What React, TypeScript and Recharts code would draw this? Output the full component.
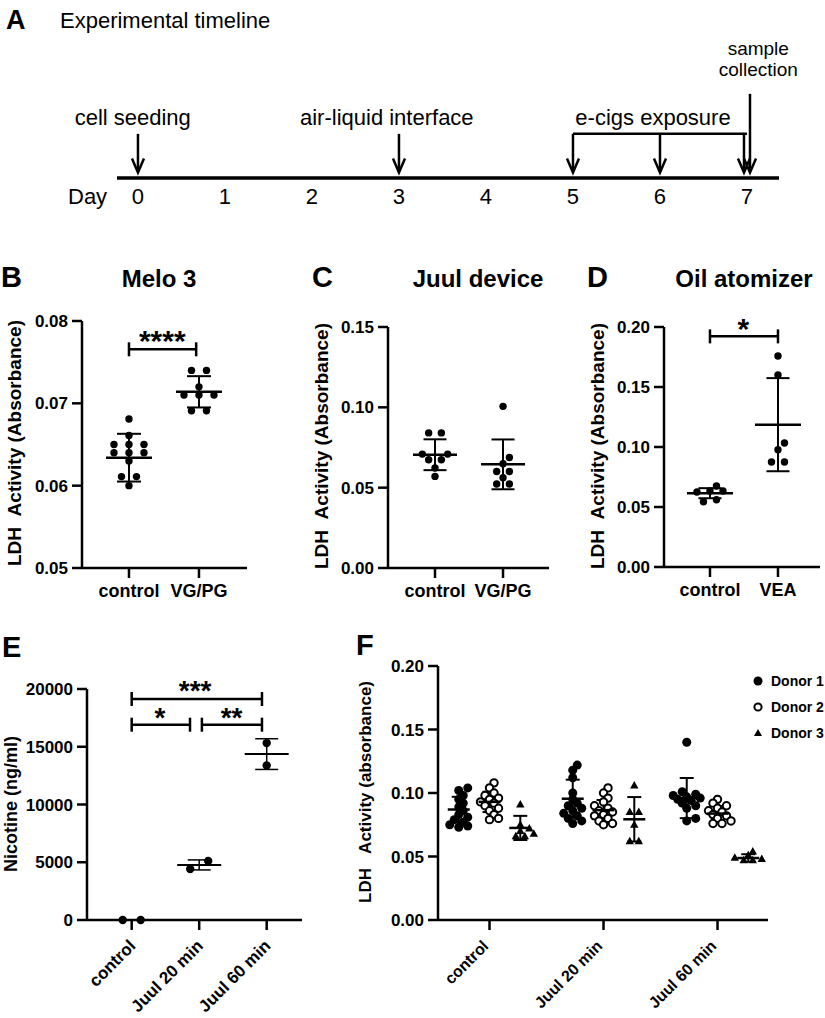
import React from 'react';
import { ScatterChart, Scatter, XAxis, YAxis, ErrorBar, ReferenceLine, ReferenceDot } from 'recharts';

const FONT = '"Liberation Sans", Arial, Helvetica, sans-serif';

// ---------- A: timeline ----------
const dayTicks = [0, 1, 2, 3, 4, 5, 6, 7];
const singleArrowDays = [0, 3];
const exposureDays = [5, 6, 7];
const collectionDay = 7;
const timelineLabels = [
  { day: -0.06, level: 0.44, text: 'cell seeding', size: 22 },
  { day: 2.86, level: 0.44, text: 'air-liquid interface', size: 22 },
  { day: 5.92, level: 0.44, text: 'e-cigs exposure', size: 22 },
  { day: 7.13, level: 0.94, text: 'sample', size: 19 },
  { day: 7.13, level: 0.79, text: 'collection', size: 19 },
];

// ---------- B: Melo 3 ----------
const meloCategories = ['control', 'VG/PG'];
const meloControl = [0.0681, 0.0661, 0.065, 0.065, 0.065, 0.064, 0.064, 0.064, 0.063, 0.0611, 0.0611, 0.06];
const meloVgpg = [0.074, 0.074, 0.072, 0.071, 0.071, 0.071, 0.0691, 0.0691];
const meloMeans = [0.0634, 0.0714];
const meloSd = [0.0029, 0.0019];

// ---------- C: Juul device ----------
const juulCategories = ['control', 'VG/PG'];
const juulControl = [0.0841, 0.0841, 0.0709, 0.0709, 0.0674, 0.0674, 0.0622, 0.057];
const juulVgpg = [0.1006, 0.0688, 0.0649, 0.0601, 0.0601, 0.0562, 0.0523, 0.0523];
const juulMeans = [0.0705, 0.0645];
const juulSd = [0.0096, 0.0155];

// ---------- D: Oil atomizer ----------
const oilCategories = ['control', 'VEA'];
const oilControl = [0.0675, 0.0633, 0.0633, 0.0625, 0.0561, 0.0544];
const oilVea = [0.1758, 0.16, 0.1033, 0.0978, 0.0875, 0.0875];
const oilMeans = [0.0615, 0.1186];
const oilSd = [0.0042, 0.0388];

// ---------- E: Nicotine ----------
const nicCategories = ['control', 'Juul 20 min', 'Juul 60 min'];
const nicControl = [0, 0];
const nic20 = [4422, 5116];
const nic60 = [15318, 13382];
const nicMeans = [0, 4769, 14364];
const nicSd = [0, 434, 1330];

// ---------- F: LDH by donor ----------
const donorCategories = ['control', 'Juul 20 min', 'Juul 60 min'];
const donorNames = ['Donor 1', 'Donor 2', 'Donor 3'];
const donor1 = [
  [0.104, 0.102, 0.098, 0.095, 0.092, 0.089, 0.086, 0.083, 0.081, 0.079, 0.077, 0.075, 0.074, 0.073],
  [0.122, 0.118, 0.112, 0.1, 0.095, 0.092, 0.09, 0.088, 0.086, 0.084, 0.082, 0.08, 0.078, 0.076],
  [0.14, 0.101, 0.099, 0.098, 0.097, 0.096, 0.095, 0.094, 0.092, 0.09, 0.088, 0.08, 0.078],
];
const donor2 = [
  [0.108, 0.104, 0.1, 0.098, 0.096, 0.095, 0.093, 0.092, 0.09, 0.088, 0.086, 0.083, 0.08, 0.079],
  [0.104, 0.1, 0.096, 0.093, 0.09, 0.088, 0.086, 0.085, 0.083, 0.082, 0.08, 0.078, 0.076, 0.075],
  [0.095, 0.092, 0.09, 0.088, 0.086, 0.085, 0.083, 0.082, 0.08, 0.078, 0.076, 0.076],
];
const donor3 = [
  [0.091, 0.075, 0.072, 0.07, 0.068, 0.066, 0.066],
  [0.106, 0.085, 0.085, 0.075, 0.062, 0.062],
  [0.054, 0.051, 0.049, 0.048, 0.047, 0.047],
];
const donorMeans = [
  [0.087, 0.0955, 0.096],
  [0.093, 0.0865, 0.0838],
  [0.0725, 0.0793, 0.0488],
];
const donorSd = [
  [0.01, 0.015, 0.0158],
  [0.008, 0.008, 0.006],
  [0.0095, 0.0175, 0.003],
];
const donorOffset = [-0.27, 0, 0.27];

type Marker = 'dot' | 'ring' | 'tri';
type Group = { x: number; values: number[]; mean: number; sd: number; marker: Marker };
type Bracket = { x1: number; x2: number; y: number };
type Star = { x: number; y: number; text: string };

// simple GraphPad-like column scatter: rows of near-equal values spread symmetrically
function swarm(values: number[], pxPerUnit: number, s: { spacing: number; minDist: number; tol: number }) {
  const order = values.map((_, i) => i).sort((a, b) => values[a] - values[b]);
  const rows: number[][] = [];
  for (const i of order) {
    const row = rows[rows.length - 1];
    if (row && (values[i] - values[row[0]]) * pxPerUnit <= s.tol) row.push(i);
    else rows.push([i]);
  }
  const off = values.map(() => 0);
  const placed: [number, number][] = [];
  for (const row of rows) {
    const k = row.length;
    const cands: number[][] = [];
    if (k === 1) {
      for (const m of [0, 0.5, -0.5, 1, -1, 1.5, -1.5]) cands.push([m * s.spacing]);
    } else {
      for (const g of [1, 1.5, 2, 2.5, 3]) cands.push(row.map((_, j) => (j - (k - 1) / 2) * s.spacing * g));
    }
    let best = cands[0];
    let bestD = -1;
    for (const c of cands) {
      let d = Infinity;
      row.forEach((i, j) => {
        const y = values[i] * pxPerUnit;
        for (const [px, py] of placed) d = Math.min(d, Math.hypot(px - c[j], py - y));
      });
      if (d >= s.minDist) {
        best = c;
        break;
      }
      if (d > bestD) {
        best = c;
        bestD = d;
      }
    }
    row.forEach((i, j) => {
      off[i] = best[j];
      placed.push([best[j], values[i] * pxPerUnit]);
    });
  }
  return off;
}

const axisStyle = { stroke: '#000', strokeWidth: 2.5 };
const tickFont = { fill: '#000', fontSize: 17, fontWeight: 700, fontFamily: FONT };

function RotatedTick(props: any) {
  const { x, y, payload, labels, dx, dy, size } = props;
  const tx = x + dx;
  const ty = y + dy;
  return (
    <text x={tx} y={ty} transform={`rotate(-45 ${tx} ${ty})`} textAnchor="end" fontSize={size} fontWeight={700} fontFamily={FONT} fill="#000">
      {labels[Math.round(payload.value)]}
    </text>
  );
}

interface PanelProps {
  left: number; top: number; width: number; height: number;
  marginTop: number; marginRight: number; yAxisWidth: number; xAxisHeight: number;
  xDomain: [number, number]; yDomain: [number, number]; yTicks: number[]; yFormat: (v: number) => string;
  categories: string[]; groups: Group[];
  dotR: number; meanHalf: number; capHalf: number; meanStroke: number; sdStroke: number;
  swarmOpts: { spacing: number; minDist: number; tol: number };
  brackets?: Bracket[]; stars?: Star[]; starSize?: number;
  rotated?: { dx: number; dy: number; size: number };
}

function DotPanel(p: PanelProps) {
  const plotH = p.height - p.marginTop - p.xAxisHeight;
  const pxPerUnit = plotH / (p.yDomain[1] - p.yDomain[0]);
  const points = p.groups.flatMap((g) => {
    const offs = swarm(g.values, pxPerUnit, p.swarmOpts);
    return g.values.map((v, i) => ({ x: g.x, y: v, off: offs[i], marker: g.marker }));
  });
  const means = p.groups.map((g) => ({ x: g.x, y: g.mean, sd: g.sd }));
  const endHalf = 7 / pxPerUnit;
  const starSize = p.starSize ?? 28;

  const renderPoint = (props: any) => {
    const cx = props.cx + props.payload.off;
    const cy = props.cy;
    const r = p.dotR;
    if (props.payload.marker === 'ring')
      return <circle cx={cx} cy={cy} r={r - 0.8} fill="#fff" stroke="#000" strokeWidth={2} />;
    if (props.payload.marker === 'tri')
      return <polygon points={`${cx},${cy - 4.5} ${cx - 4.2},${cy + 3} ${cx + 4.2},${cy + 3}`} fill="#000" />;
    return <circle cx={cx} cy={cy} r={r} fill="#000" />;
  };
  const renderMean = (props: any) => (
    <line x1={props.cx - p.meanHalf} x2={props.cx + p.meanHalf} y1={props.cy} y2={props.cy} stroke="#000" strokeWidth={p.meanStroke} />
  );

  return (
    <div style={{ position: 'absolute', left: p.left, top: p.top }}>
      <ScatterChart width={p.width} height={p.height} margin={{ top: p.marginTop, right: p.marginRight, bottom: 0, left: 0 }}>
        <XAxis
          type="number"
          dataKey="x"
          domain={p.xDomain}
          ticks={p.categories.map((_, i) => i)}
          interval={0}
          height={p.xAxisHeight}
          axisLine={axisStyle}
          tickLine={axisStyle}
          tickSize={10}
          tickMargin={p.rotated ? 2 : 6}
          tick={
            p.rotated ? (
              <RotatedTick labels={p.categories} dx={p.rotated.dx} dy={p.rotated.dy} size={p.rotated.size} />
            ) : (
              { ...tickFont, fontSize: 18 }
            )
          }
          tickFormatter={(v: number) => p.categories[Math.round(v)]}
        />
        <YAxis
          type="number"
          dataKey="y"
          domain={p.yDomain}
          ticks={p.yTicks}
          interval={0}
          width={p.yAxisWidth}
          axisLine={axisStyle}
          tickLine={axisStyle}
          tickSize={10}
          tickMargin={4}
          tick={tickFont}
          tickFormatter={p.yFormat}
        />
        <Scatter data={points} shape={renderPoint} isAnimationActive={false} />
        <Scatter data={means} shape={renderMean} isAnimationActive={false}>
          <ErrorBar dataKey="sd" direction="y" width={p.capHalf} stroke="#000" strokeWidth={p.sdStroke} isAnimationActive={false} />
        </Scatter>
        {(p.brackets ?? []).flatMap((b, i) => [
          <ReferenceLine key={`h${i}`} ifOverflow="visible" segment={[{ x: b.x1, y: b.y }, { x: b.x2, y: b.y }]} stroke="#000" strokeWidth={2.5} />,
          <ReferenceLine key={`l${i}`} ifOverflow="visible" segment={[{ x: b.x1, y: b.y - endHalf }, { x: b.x1, y: b.y + endHalf }]} stroke="#000" strokeWidth={2.5} />,
          <ReferenceLine key={`r${i}`} ifOverflow="visible" segment={[{ x: b.x2, y: b.y - endHalf }, { x: b.x2, y: b.y + endHalf }]} stroke="#000" strokeWidth={2.5} />,
        ])}
        {(p.stars ?? []).map((s, i) => (
          <ReferenceDot
            key={`s${i}`}
            x={s.x}
            y={s.y}
            ifOverflow="visible"
            shape={(props: any) => (
              <text x={props.cx} y={props.cy + starSize * 0.58} textAnchor="middle" fontSize={starSize} fontWeight={700} fontFamily={FONT} fill="#000">
                {s.text}
              </text>
            )}
          />
        ))}
      </ScatterChart>
    </div>
  );
}

function ArrowShape(dx: number) {
  return (props: any) => {
    const x = props.x1 + dx;
    const yTop = Math.min(props.y1, props.y2);
    const yTip = Math.max(props.y1, props.y2);
    return (
      <g>
        <line x1={x} x2={x} y1={yTop} y2={yTip - 1} stroke="#000" strokeWidth={2.5} />
        <polyline points={`${x - 6},${yTip - 14} ${x},${yTip} ${x + 6},${yTip - 14}`} fill="none" stroke="#000" strokeWidth={2.5} />
      </g>
    );
  };
}

function Timeline() {
  const ARROW_TOP = 0.32;
  const COLLECT_TOP = 0.61;
  const TIP = 0.04;
  return (
    <div style={{ position: 'absolute', left: 0, top: 0 }}>
      <ScatterChart width={825} height={230} margin={{ top: 40, right: 46, bottom: 0, left: 117 }}>
        <XAxis
          type="number"
          dataKey="x"
          domain={[-0.241, 7.368]}
          ticks={dayTicks}
          interval={0}
          height={52}
          axisLine={{ stroke: '#000', strokeWidth: 3.5 }}
          tickLine={false}
          tickSize={6}
          tickMargin={4}
          tick={{ fill: '#000', fontSize: 22, fontFamily: FONT }}
        />
        <YAxis type="number" dataKey="y" domain={[0, 1]} hide />
        <Scatter data={dayTicks.map((d) => ({ x: d, y: 0 }))} shape={() => <g />} isAnimationActive={false} />
        {singleArrowDays.map((d) => (
          <ReferenceLine key={`a${d}`} ifOverflow="visible" segment={[{ x: d, y: ARROW_TOP }, { x: d, y: TIP }]} shape={ArrowShape(0)} />
        ))}
        <ReferenceLine
          ifOverflow="visible"
          segment={[{ x: exposureDays[0], y: ARROW_TOP }, { x: exposureDays[exposureDays.length - 1], y: ARROW_TOP }]}
          stroke="#000"
          strokeWidth={2.5}
        />
        {exposureDays.map((d, i) => (
          <ReferenceLine
            key={`e${d}`}
            ifOverflow="visible"
            segment={[{ x: d, y: ARROW_TOP }, { x: d, y: TIP }]}
            shape={ArrowShape(i === exposureDays.length - 1 ? -3 : 0)}
          />
        ))}
        <ReferenceLine ifOverflow="visible" segment={[{ x: collectionDay, y: COLLECT_TOP }, { x: collectionDay, y: TIP }]} shape={ArrowShape(3)} />
        {timelineLabels.map((l, i) => (
          <ReferenceDot
            key={`t${i}`}
            x={l.day}
            y={l.level}
            ifOverflow="visible"
            shape={(props: any) => (
              <text x={props.cx} y={props.cy + l.size * 0.36} textAnchor="middle" fontSize={l.size} fontFamily={FONT} fill="#000">
                {l.text}
              </text>
            )}
          />
        ))}
      </ScatterChart>
    </div>
  );
}

function Overlay() {
  const letter = { fontSize: 29, fontWeight: 700, fontFamily: FONT, fill: '#000' };
  const title = { fontSize: 24, fontWeight: 700, fontFamily: FONT, fill: '#000', textAnchor: 'middle' as const };
  const ytitle = { fontSize: 19, fontWeight: 700, fontFamily: FONT, fill: '#000', textAnchor: 'middle' as const };
  const legendY = [681, 707, 733];
  return (
    <svg width={825} height={1018} style={{ position: 'absolute', left: 0, top: 0, pointerEvents: 'none' }}>
      <text x={6} y={29} fontSize={27} fontWeight={700} fontFamily={FONT}>A</text>
      <text x={60} y={28} fontSize={22} fontFamily={FONT}>Experimental timeline</text>
      <text x={68} y={204} fontSize={22} fontFamily={FONT}>Day</text>

      <text x={1} y={287} {...letter}>B</text>
      <text x={312} y={287} {...letter}>C</text>
      <text x={587} y={287} {...letter}>D</text>
      <text x={2} y={657} {...letter}>E</text>
      <text x={356} y={655} {...letter}>F</text>

      <text x={159} y={287} {...title}>Melo 3</text>
      <text x={478} y={287} {...title}>Juul device</text>
      <text x={744} y={287} {...title}>Oil atomizer</text>

      <text transform="translate(21 443) rotate(-90)" {...ytitle}>LDH{'\u00a0\u00a0'}Activity (Absorbance)</text>
      <text transform="translate(328 446) rotate(-90)" {...ytitle}>LDH{'\u00a0\u00a0'}Activity (Absorbance)</text>
      <text transform="translate(604 446) rotate(-90)" {...ytitle}>LDH{'\u00a0\u00a0'}Activity (Absorbance)</text>
      <text transform="translate(17 804) rotate(-90)" {...ytitle} fontSize={18}>Nicotine (ng/ml)</text>
      <text transform="translate(371 792) rotate(-90)" {...ytitle} fontSize={17}>LDH{'\u00a0\u00a0\u00a0'}Activity (absorbance)</text>

      <circle cx={758} cy={legendY[0]} r={4.5} fill="#000" />
      <circle cx={758} cy={legendY[1]} r={3.6} fill="#fff" stroke="#000" strokeWidth={2} />
      <polygon points={`758,${legendY[2] - 4} 754,${legendY[2] + 3} 762,${legendY[2] + 3}`} fill="#000" />
      {donorNames.map((n, i) => (
        <text key={n} x={771} y={legendY[i] + 5} fontSize={14} fontWeight={700} fontFamily={FONT}>
          {n}
        </text>
      ))}
    </svg>
  );
}

const fmt2 = (v: number) => v.toFixed(2);
const fmt0 = (v: number) => String(v);

export default function App() {
  const markers: Marker[] = ['dot', 'ring', 'tri'];
  const donorGroups: Group[] = [donor1, donor2, donor3].flatMap((d, di) =>
    d.map((vals, ci) => ({ x: ci + donorOffset[di], values: vals, mean: donorMeans[di][ci], sd: donorSd[di][ci], marker: markers[di] }))
  );
  return (
    <div style={{ position: 'absolute', left: 0, top: 0, width: 825, height: 1018, background: '#fff', fontFamily: FONT }}>
      <Timeline />
      <DotPanel
        left={0} top={300} width={262} height={320} marginTop={21} marginRight={15} yAxisWidth={82} xAxisHeight={52}
        xDomain={[-0.671, 1.686]} yDomain={[0.05, 0.08]} yTicks={[0.05, 0.06, 0.07, 0.08]} yFormat={fmt2}
        categories={meloCategories}
        groups={[
          { x: 0, values: meloControl, mean: meloMeans[0], sd: meloSd[0], marker: 'dot' },
          { x: 1, values: meloVgpg, mean: meloMeans[1], sd: meloSd[1], marker: 'dot' },
        ]}
        dotR={3.7} meanHalf={23} capHalf={12} meanStroke={2.5} sdStroke={2}
        swarmOpts={{ spacing: 15, minDist: 7.5, tol: 3 }}
        brackets={[{ x1: 0, x2: 0.96, y: 0.07656 }]}
        stars={[{ x: 0.476, y: 0.0785, text: '****' }]} starSize={30}
      />
      <DotPanel
        left={310} top={300} width={250} height={320} marginTop={27} marginRight={11} yAxisWidth={78} xAxisHeight={52}
        xDomain={[-0.691, 1.676]} yDomain={[0, 0.15]} yTicks={[0, 0.05, 0.1, 0.15]} yFormat={fmt2}
        categories={juulCategories}
        groups={[
          { x: 0, values: juulControl, mean: juulMeans[0], sd: juulSd[0], marker: 'dot' },
          { x: 1, values: juulVgpg, mean: juulMeans[1], sd: juulSd[1], marker: 'dot' },
        ]}
        dotR={3.7} meanHalf={22} capHalf={11.5} meanStroke={2.5} sdStroke={2}
        swarmOpts={{ spacing: 12.7, minDist: 7.5, tol: 3 }}
      />
      <DotPanel
        left={585} top={300} width={240} height={320} marginTop={27} marginRight={5} yAxisWidth={79} xAxisHeight={53}
        xDomain={[-0.676, 1.618]} yDomain={[0, 0.2]} yTicks={[0, 0.05, 0.1, 0.15, 0.2]} yFormat={fmt2}
        categories={oilCategories}
        groups={[
          { x: 0, values: oilControl, mean: oilMeans[0], sd: oilSd[0], marker: 'dot' },
          { x: 1, values: oilVea, mean: oilMeans[1], sd: oilSd[1], marker: 'dot' },
        ]}
        dotR={3.7} meanHalf={23} capHalf={11.5} meanStroke={2.5} sdStroke={2}
        swarmOpts={{ spacing: 13, minDist: 7.5, tol: 3 }}
        brackets={[{ x1: 0, x2: 1, y: 0.1922 }]}
        stars={[{ x: 0.49, y: 0.2042, text: '*' }]} starSize={30}
      />
      <DotPanel
        left={0} top={660} width={310} height={358} marginTop={29} marginRight={8} yAxisWidth={87} xAxisHeight={98}
        xDomain={[-0.662, 2.523]} yDomain={[0, 20000]} yTicks={[0, 5000, 10000, 15000, 20000]} yFormat={fmt0}
        categories={nicCategories}
        groups={[
          { x: 0, values: nicControl, mean: nicMeans[0], sd: nicSd[0], marker: 'dot' },
          { x: 1, values: nic20, mean: nicMeans[1], sd: nicSd[1], marker: 'dot' },
          { x: 2, values: nic60, mean: nicMeans[2], sd: nicSd[2], marker: 'dot' },
        ]}
        dotR={4.2} meanHalf={22} capHalf={11.5} meanStroke={2} sdStroke={1.5}
        swarmOpts={{ spacing: 18, minDist: 8.5, tol: 9 }}
        brackets={[
          { x1: 0, x2: 1.93, y: 19133 },
          { x1: 0, x2: 0.864, y: 16908 },
          { x1: 1.04, x2: 1.93, y: 16908 },
        ]}
        stars={[
          { x: 0.94, y: 20460, text: '***' },
          { x: 0.42, y: 18145, text: '*' },
          { x: 1.48, y: 18145, text: '**' },
        ]}
        starSize={28}
        rotated={{ dx: 5, dy: 15, size: 17 }}
      />
      <DotPanel
        left={360} top={640} width={465} height={378} marginTop={26} marginRight={57} yAxisWidth={78} xAxisHeight={98}
        xDomain={[-0.452, 2.443]} yDomain={[0, 0.2]} yTicks={[0, 0.05, 0.1, 0.15, 0.2]} yFormat={fmt2}
        categories={donorCategories}
        groups={donorGroups}
        dotR={4.5} meanHalf={11} capHalf={7} meanStroke={2.5} sdStroke={2}
        swarmOpts={{ spacing: 9, minDist: 5.5, tol: 1 }}
        rotated={{ dx: 0, dy: 15, size: 16 }}
      />
      <Overlay />
    </div>
  );
}
